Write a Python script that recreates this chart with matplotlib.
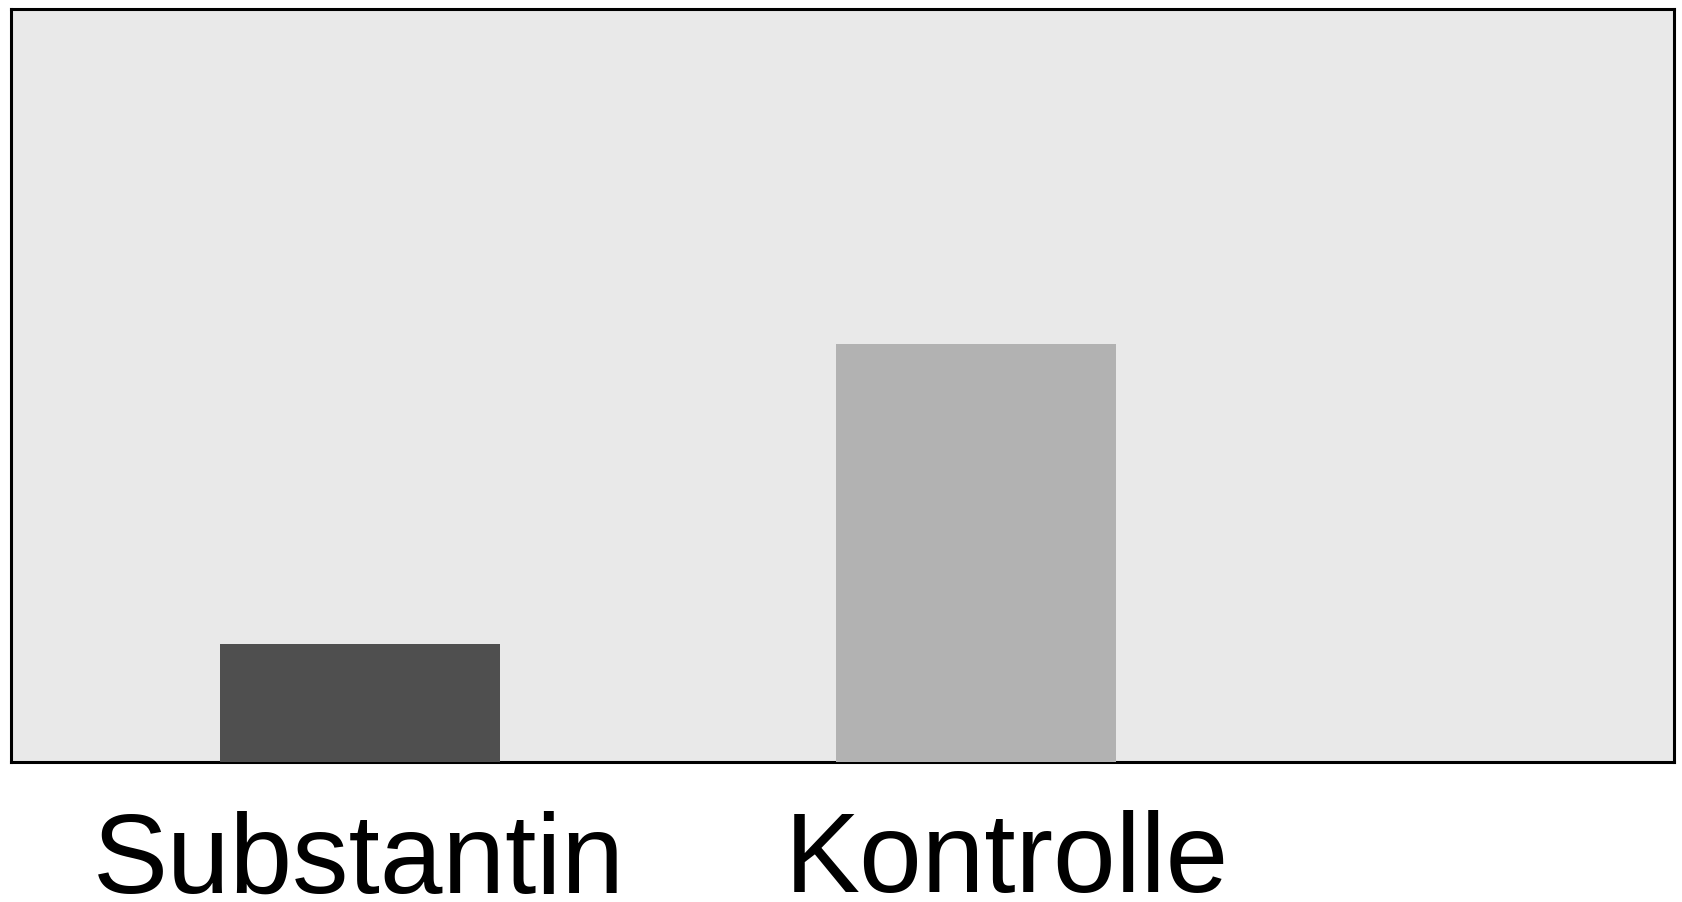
import matplotlib
matplotlib.use("Agg")
import matplotlib.pyplot as plt
import matplotlib.transforms as mtransforms

# data
categories = ["Substantin", "Kontrolle"]
values = [15.7, 55.5]
bar_colors = ["#4f4f4f", "#b2b2b2"]

fig = plt.figure(figsize=(16.83, 9.02), dpi=100)
ax = fig.add_axes([11 / 1683, 1 - 762 / 902, 1663 / 1683, 753 / 902])
ax.set_facecolor("#e9e9e9")

x = list(range(len(categories)))
ax.bar(x, values, width=0.455, color=bar_colors, zorder=3, linewidth=0)

ax.set_xlim(-0.5676, 2.135)
ax.set_ylim(0, 100)
ax.set_xticks([])
ax.set_yticks([])
for s in ax.spines.values():
    s.set_linewidth(2.2)
    s.set_color("black")
    s.set_zorder(2)

# category labels under the frame
trans = mtransforms.blended_transform_factory(ax.transData, ax.transAxes)
label_dx = [-0.003, 0.05]
for xi, name, dx in zip(x, categories, label_dx):
    ax.text(xi + dx, -0.173, name, transform=trans, ha="center", va="baseline",
            fontsize=81, family="Liberation Sans", color="black", clip_on=False)

fig.savefig("out.png", dpi=100)
